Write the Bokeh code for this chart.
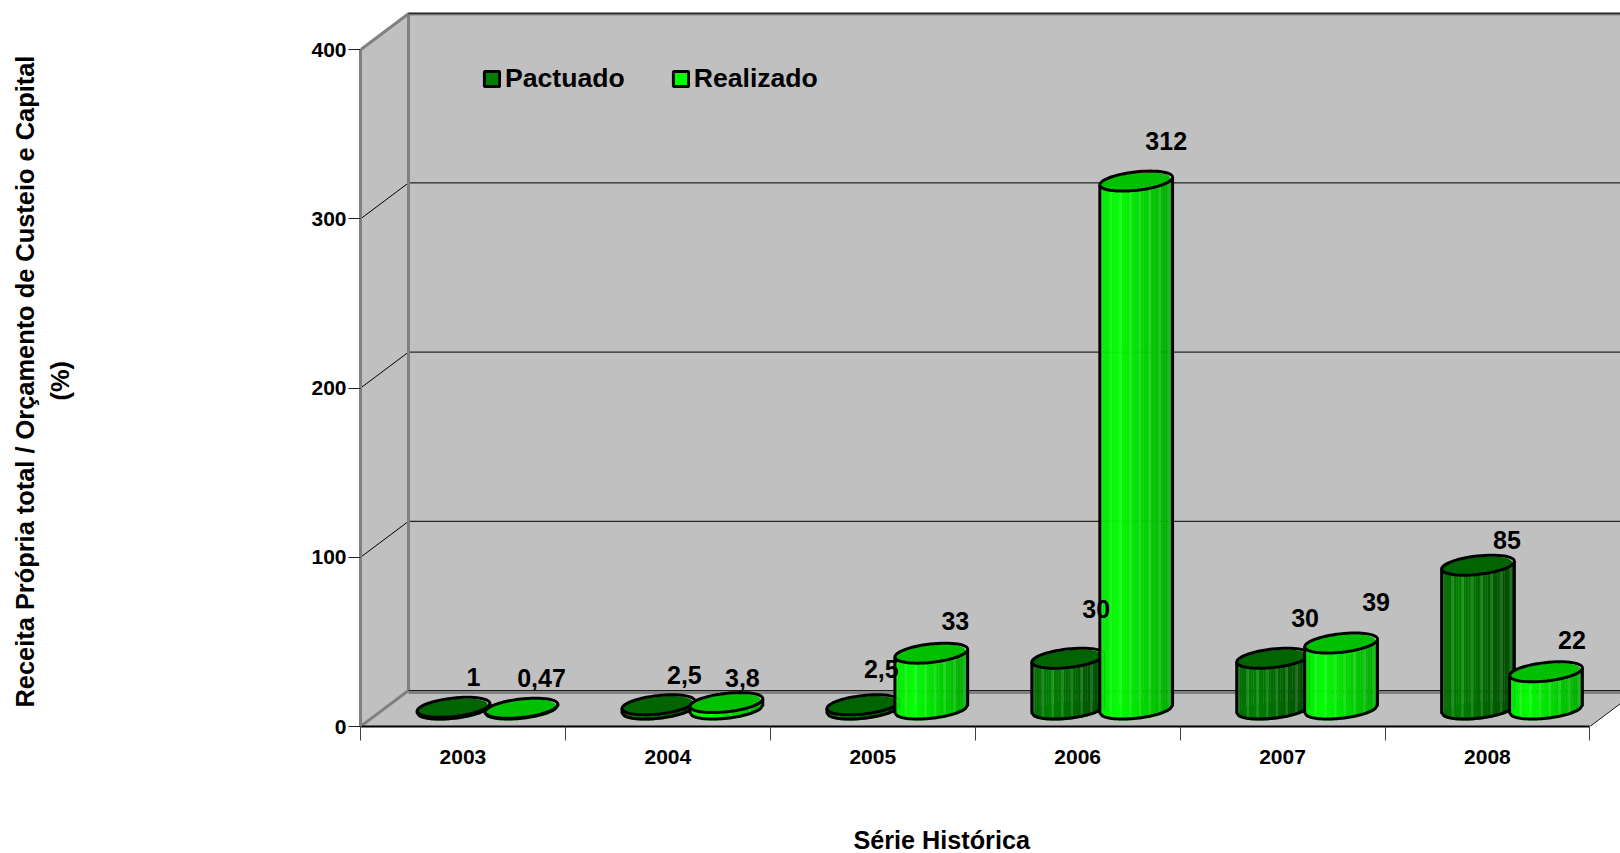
import math
from bokeh.plotting import figure
from bokeh.embed import file_html
from bokeh.resources import INLINE
from bokeh.core.properties import value
from bokeh.models import (FixedTicker, Legend, LegendItem, Range1d, Title)

# ---- data ----
years = ["2003", "2004", "2005", "2006", "2007", "2008"]
pactuado = [1, 2.5, 2.5, 30, 30, 85]
realizado = [0.47, 3.8, 33, 312, 39, 22]
pactuado_labels = ["1", "2,5", "2,5", "30", "30", "85"]
realizado_labels = ["0,47", "3,8", "33", "312", "39", "22"]
y_ticks = [0, 100, 200, 300, 400]
series_names = ["Pactuado", "Realizado"]
y_title_lines = ["Receita Própria total / Orçamento de Custeio e Capital", "(%)"]
x_title = "Série Histórica"

# ---- label nudges as placed by hand in the original (px right, px up from bar top centre) ----
pact_nudge_x = [20, 26, 18, 28, 32, 29]
pact_nudge_y = [30, 30, 36, 49, 40, 25]
real_nudge_x = [20, 16, 24, 30, 35, 26]
real_nudge_y = [30, 25, 32, 40, 41, 32]

# ---- scale / layout ----
FONT = "Liberation Sans"
W, H = 1620, 853
LEFT, BOTTOM = 360, 127
SX, SY = 204.9, 1.692            # px per category, px per unit
FW, FH = W - LEFT, H - BOTTOM
DX, DY = 48 / SX, 36 / SY      # depth of the box
RX, SHX, SHY = 33.6 / SX, 13.9 / SX, 10.0 / SY   # cylinder section
BASE = 17.5 / SY                 # base centre above the front axis
OFF_P, OFF_R = 93 / SX, 161 / SX # bar centres inside a category

p = figure(width=W, height=H, output_backend="svg", toolbar_location=None,
           x_range=Range1d(0, FW / SX), y_range=Range1d(0, FH / SY),
           min_border_left=LEFT, min_border_right=0, min_border_top=0,
           min_border_bottom=BOTTOM, outline_line_color=None,
           background_fill_color="white", border_fill_color="white")
p.grid.visible = False

# ---- axes ----
ax = p.xaxis[0]
ax.ticker = FixedTicker(ticks=[i + 0.5 for i in range(len(years))],
                        minor_ticks=list(range(len(years) + 1)))
ax.major_label_overrides = {i + 0.5: y for i, y in enumerate(years)}
ax.bounds = (0, len(years))
ax.major_tick_out = 0
ax.major_tick_in = 0
ax.minor_tick_out = 14
ax.minor_tick_in = 0
ax.minor_tick_line_color = "#404040"
ax.axis_line_color = "black"
ax.axis_line_width = 2
ax.major_label_standoff = 9
ax.major_label_text_font = FONT
ax.major_label_text_font_style = "bold"
ax.major_label_text_font_size = "21px"
ax.major_label_text_color = "black"

ay = p.yaxis[0]
ay.ticker = FixedTicker(ticks=y_ticks, minor_ticks=[])
ay.bounds = (y_ticks[0], y_ticks[-1])
ay.major_tick_out = 12
ay.major_tick_in = 0
ay.minor_tick_out = 0
ay.minor_tick_in = 0
ay.major_tick_line_color = "#202020"
ay.axis_line_color = "#808080"
ay.axis_line_width = 3
ay.major_label_standoff = 2
ay.major_label_text_font = FONT
ay.major_label_text_font_style = "bold"
ay.major_label_text_font_size = "21px"
ay.major_label_text_color = "black"

# ---- box: walls and floor ----
n = len(years)
top = y_ticks[-1]
WALL = "#C0C0C0"
p.patches(xs=[[DX, n + DX, n + DX, DX], [0, DX, DX, 0], [0, n, n + DX, DX]],
          ys=[[DY, DY, top + DY, top + DY], [0, DY, top + DY, top], [0, 0, DY, DY]],
          fill_color=WALL, line_color=None)
# grid on back wall and left wall
gx = [[0, DX, n + DX] for t in y_ticks[1:-1]]
gy = [[t, t + DY, t + DY] for t in y_ticks[1:-1]]
p.multi_line(gx, gy, line_color="black", line_width=1)
# heavy grey edges
p.multi_line([[DX, n + DX], [0, DX, n + DX], [DX, DX], [0, DX]],
             [[top + DY, top + DY], [top, top + DY, top + DY], [0 + DY, top + DY], [0, DY]],
             line_color="#808080", line_width=3)
p.line([DX, n + DX], [top + DY, top + DY], line_color="#1a1a1a", line_width=1)
p.line([DX, n + DX], [DY - 1.2, DY - 1.2], line_color="#808080", line_width=3)
p.line([DX, n + DX], [DY, DY], line_color="#1a1a1a", line_width=1)
p.line([n, n + DX], [0, DY], line_color="#1a1a1a", line_width=1)


# ---- cylinders ----
def hexmix(a, b, t):
    return "#%02x%02x%02x" % tuple(round(a[i] + (b[i] - a[i]) * t) for i in range(3))


def ellipse(cx, cy, k=1.0, m=60):
    xs, ys = [], []
    for i in range(m):
        th = 2 * math.pi * i / m
        xs.append(cx + k * (RX * math.cos(th) + SHX * math.sin(th)))
        ys.append(cy + k * SHY * math.sin(th))
    return xs, ys


TH0 = math.atan2(SHX, RX)
NSTRIP = 30


def draw_series(vals, offset, c_left, c_mid, c_right, c_top):
    sx, sy, colors, ox, oy, fringe_x, fringe_y, rim_x, rim_y, top_x, top_y, tox, toy = ([] for _ in range(13))
    for i, v in enumerate(vals):
        cx = i + offset
        b = BASE
        t = BASE + v
        phis = [-math.acos(1 - 2 * k / NSTRIP) for k in range(NSTRIP + 1)]
        arc = []
        for phi in phis:
            th = TH0 + phi
            arc.append((RX * math.cos(th) + SHX * math.sin(th), SHY * math.sin(th)))
        for k in range(NSTRIP):
            (x1, y1), (x2, y2) = arc[k], arc[k + 1]
            sx.append([cx + x1, cx + x2, cx + x2, cx + x1])
            sy.append([b + y1, b + y2, t + y2, t + y1])
            f = 1 - (k + 0.5) / NSTRIP      # 0 left .. 1 right
            if f < 0.25:
                c = hexmix(c_left, c_mid, f / 0.25)
            else:
                c = hexmix(c_mid, c_right, (f - 0.25) / 0.75)
            if k % 4 == 1:
                g = tuple(int(c[j:j + 2], 16) for j in (1, 3, 5))
                c = hexmix(g, (200, 230, 200), 0.18)
            colors.append(c)
        ox.append([cx + q[0] for q in arc])
        oy.append([b + q[1] for q in arc])
        ox[-1] = [cx + arc[0][0]] + ox[-1] + [cx + arc[-1][0]]
        oy[-1] = [t + arc[0][1]] + oy[-1] + [t + arc[-1][1]]
        fx, fy = ellipse(cx, b - 1.6 / SY)
        fringe_x.append(fx)
        fringe_y.append(fy)
        rx, ry = ellipse(cx, t)
        rim_x.append(rx)
        rim_y.append(ry)
        ix, iy = ellipse(cx - 1.0 / SX, t - 1.0 / SY, 0.97)
        top_x.append(ix)
        top_y.append(iy)
        tox.append(rx + rx[:1])
        toy.append(ry + ry[:1])
    p.patches(fringe_x, fringe_y, fill_color=hexmix(c_mid, c_mid, 0), line_color=None)
    p.patches(sx, sy, fill_color=colors, line_color=colors, line_width=0.3)
    p.patches(rim_x, rim_y, fill_color="#E8E8E8", line_color=None)
    p.patches(top_x, top_y, fill_color=c_top, line_color=None)
    p.multi_line(ox, oy, line_color="black", line_width=3, line_join="round")
    p.multi_line(tox, toy, line_color="black", line_width=3, line_join="round")


DARK = dict(c_left=(0, 0x68, 0), c_mid=(0, 0x80, 0), c_right=(0, 0x48, 0), c_top="#006400")
LIGHT = dict(c_left=(0, 0xE8, 0), c_mid=(0, 0xFF, 0), c_right=(0, 0xA8, 0), c_top="#00C000")
draw_series(pactuado, OFF_P, **DARK)
draw_series(realizado, OFF_R, **LIGHT)

# ---- value labels ----
lx, ly, lt, lox, loy = [], [], [], [], []
for vals, off, labs, nx, ny in ((pactuado, OFF_P, pactuado_labels, pact_nudge_x, pact_nudge_y),
                                (realizado, OFF_R, realizado_labels, real_nudge_x, real_nudge_y)):
    for i, v in enumerate(vals):
        lx.append(i + off)
        ly.append(BASE + v)
        lt.append(labs[i])
        lox.append(nx[i])
        loy.append(-ny[i])
p.text(x=lx, y=ly, text=lt, x_offset=lox, y_offset=loy, text_align="center",
       text_baseline="middle", text_font=value(FONT), text_font_style="bold",
       text_font_size="25px", text_color="black")

# ---- legend ----
nan = float("nan")
r1 = p.rect(x=[nan], y=[nan], width=[1], height=[1], fill_color="#008000", line_color="black", line_width=3)
r2 = p.rect(x=[nan], y=[nan], width=[1], height=[1], fill_color="#00FF00", line_color="black", line_width=3)
leg = Legend(items=[LegendItem(label=series_names[0], renderers=[r1]),
                    LegendItem(label=series_names[1], renderers=[r2])],
             location=(122, 632), orientation="horizontal",
             background_fill_alpha=0, border_line_color=None,
             padding=0, margin=0, spacing=46, glyph_width=19, glyph_height=19,
             label_standoff=4, label_text_font=FONT, label_text_font_style="bold",
             label_text_font_size="26.6px", label_text_color="black")
p.add_layout(leg)

# ---- axis titles (blank titles act as spacers in the side panels) ----
TITLE = dict(text_font=FONT, text_font_style="bold", text_color="black")
p.add_layout(Title(text=" ", standoff=30, text_font_size="25.2px", **TITLE), "below")
p.add_layout(Title(text=x_title, align="left", offset=493, standoff=-6, text_font_size="25.2px", **TITLE), "below")
p.add_layout(Title(text=" ", standoff=201, text_font_size="25.4px", **TITLE), "left")
p.add_layout(Title(text=y_title_lines[1], align="left", offset=326, standoff=7, text_font_size="25.4px", **TITLE), "left")
p.add_layout(Title(text=y_title_lines[0], align="left", offset=19, standoff=4, text_font_size="25.4px", **TITLE), "left")

open("out.html", "w").write(file_html(p, INLINE))
